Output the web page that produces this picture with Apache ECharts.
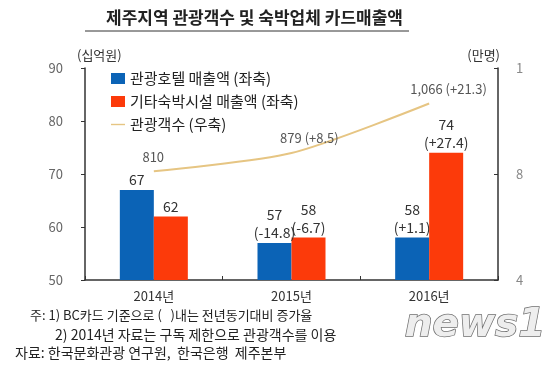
<!DOCTYPE html>
<html>
<head>
<meta charset="utf-8">
<script src="https://cdn.jsdelivr.net/npm/echarts@6/dist/echarts.min.js"></script>
<style>
  html, body { margin: 0; padding: 0; background: #fff; }
  #chart-container { width: 560px; height: 377px; }
</style>
</head>
<body>
<div id="chart-container"></div>
<script>
var dom = document.getElementById('chart-container');
var myChart = echarts.init(dom, null, { renderer: 'canvas' });

var years = ['2014년', '2015년', '2016년'];
var hotelSales = [67, 57, 58];
var hotelChange = ['', '-14.8', '+1.1'];
var otherSales = [62, 58, 74];
var otherChange = ['', '-6.7', '+27.4'];
var visitors = [810, 879, 1066];
var visitorChange = ['', '+8.5', '+21.3'];
var rightTicks = ['4', '8', '1'];

var FONT = '"Noto Sans CJK KR", "Noto Sans", sans-serif';

function barData(vals, changes) {
  return vals.map(function (v, i) {
    return { value: v, change: changes[i] };
  });
}

var lineData = visitors.map(function (v, i) {
  var txt = v.toLocaleString('en-US');
  return {
    value: v,
    label: {
      formatter: txt + (visitorChange[i] ? ' (' + visitorChange[i] + ')' : ''),
      offset: [-txt.length * 3.8, 0]
    }
  };
});

var barLabel = {
  show: true, position: 'top', distance: 1,
  fontSize: 14, color: '#333', lineHeight: 18,
  formatter: function (p) { return p.value + (p.data.change ? '\n(' + p.data.change + ')' : ''); }
};

var option = {
  animation: false,
  textStyle: { fontFamily: FONT },
  graphic: [
    { type: 'text', left: 106, top: 9, style: { text: '제주지역 관광객수 및 숙박업체 카드매출액', font: 'bold 17px ' + FONT, fill: '#222' } },
    { type: 'line', shape: { x1: 85, y1: 31, x2: 409, y2: 31 }, style: { stroke: '#333', lineWidth: 1 } },
    { type: 'text', left: 30, top: 309, style: { text: '주: 1) BC카드 기준으로 (   )내는 전년동기대비 증가율', font: '13px ' + FONT, fill: '#222' } },
    { type: 'text', left: 55, top: 328, style: { text: '2) 2014년 자료는 구독 제한으로 관광객수를 이용', font: '14px ' + FONT, fill: '#222' } },
    { type: 'text', left: 15, top: 346, style: { text: '자료: 한국문화관광 연구원,  한국은행  제주본부', font: '14px ' + FONT, fill: '#222' } },
    { type: 'text', left: 404, top: 306, style: { text: 'news1', font: 'italic bold 39px "DejaVu Sans", sans-serif', fill: '#eeeeee', stroke: '#6f6f6f', lineWidth: 1.5 } }
  ],
  legend: {
    orient: 'vertical',
    left: 106,
    top: 66,
    itemGap: 8,
    itemWidth: 14,
    itemHeight: 11,
    textStyle: { fontSize: 15, color: '#222', fontFamily: FONT },
    data: [
      { name: '관광호텔 매출액 (좌축)', icon: 'rect' },
      { name: '기타숙박시설 매출액 (좌축)', icon: 'rect' },
      { name: '관광객수 (우축)', icon: 'path://M0,0 H20 V2 H0 Z', itemStyle: { color: '#e6c583' } }
    ]
  },
  grid: { left: 85, right: 62, top: 68, bottom: 97 },
  xAxis: {
    type: 'category',
    data: years,
    axisLine: { lineStyle: { color: '#333', width: 1.5 } },
    axisTick: { show: true, inside: true, length: 4, lineStyle: { color: '#333' } },
    axisLabel: { fontSize: 13, color: '#333', margin: 10 }
  },
  yAxis: [
    {
      type: 'value',
      name: '(십억원)',
      nameLocation: 'end',
      nameGap: 6,
      nameTextStyle: { fontSize: 13, color: '#333', align: 'left', padding: [0, 0, 0, -8] },
      min: 50, max: 90, interval: 10,
      splitLine: { show: false },
      axisLine: { show: true, lineStyle: { color: '#333', width: 1.5 } },
      axisTick: { show: true, length: 4, lineStyle: { color: '#333' } },
      axisLabel: { fontSize: 13, color: '#666', margin: 22 }
    },
    {
      type: 'value',
      name: '(만명)',
      nameLocation: 'end',
      nameGap: 6,
      nameTextStyle: { fontSize: 13, color: '#333', align: 'right', padding: [0, -2, 0, 0] },
      min: 400, max: 1200, interval: 400,
      splitLine: { show: false },
      axisLine: { show: true, lineStyle: { color: '#333', width: 1.5 } },
      axisTick: { show: true, inside: true, length: 4, lineStyle: { color: '#333' } },
      axisLabel: {
        fontSize: 13, color: '#888', margin: 18,
        formatter: function (v, i) { return rightTicks[i]; }
      }
    }
  ],
  series: [
    {
      name: '관광호텔 매출액 (좌축)',
      type: 'bar',
      barWidth: 34,
      barGap: '0%',
      itemStyle: { color: '#0b63b6' },
      data: barData(hotelSales, hotelChange),
      label: barLabel
    },
    {
      name: '기타숙박시설 매출액 (좌축)',
      type: 'bar',
      barWidth: 34,
      itemStyle: { color: '#fc3a0a' },
      data: barData(otherSales, otherChange),
      label: barLabel
    },
    {
      name: '관광객수 (우축)',
      type: 'line',
      yAxisIndex: 1,
      smooth: 0.25,
      symbol: 'circle',
      symbolSize: 0.1,
      itemStyle: { color: '#e6c583' },
      lineStyle: { color: '#e6c583', width: 2 },
      label: { show: true, position: 'top', align: 'left', distance: 8, fontSize: 13, color: '#555' },
      data: lineData
    }
  ]
};

myChart.setOption(option);
window.addEventListener('resize', myChart.resize);
</script>
</body>
</html>
